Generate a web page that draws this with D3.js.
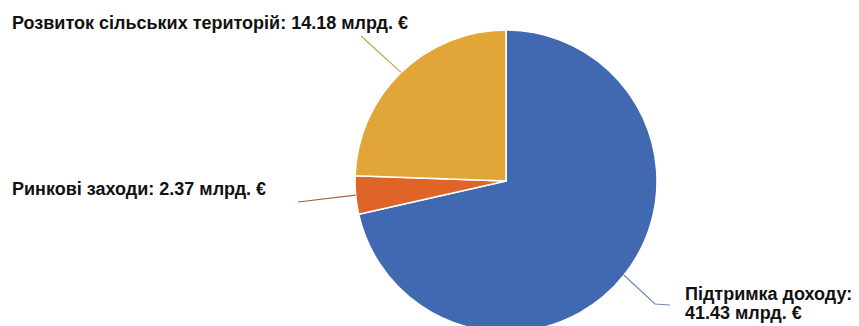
<!DOCTYPE html>
<html>
<head>
<meta charset="utf-8">
<script src="https://cdn.jsdelivr.net/npm/d3@7"></script>
<style>
  html, body { margin: 0; padding: 0; background: #fff; }
  svg { display: block; }
  text { font-family: "Liberation Sans", Arial, sans-serif; font-weight: bold; fill: #111; }
</style>
</head>
<body>
<svg id="chart" width="859" height="326"></svg>
<script>
// CAP budget split, billion euro
const categories = ["Підтримка доходу", "Ринкові заходи", "Розвиток сільських територій"];
const values = [41.43, 2.37, 14.18];
const unit = "млрд. €";
const colors = ["#4169B1", "#DE6428", "#E2A537"];
const leaderColors = ["#7089AE", "#A8603A", "#BFA552"];

const svg = d3.select("#chart");
const cx = 506, cy = 181, R = 151;

const pie = d3.pie().sort(null).startAngle(0).endAngle(2 * Math.PI);
const arcs = pie(values);
const arc = d3.arc().innerRadius(0).outerRadius(R);

const g = svg.append("g").attr("transform", `translate(${cx},${cy})`);

g.selectAll("path.slice")
  .data(arcs)
  .join("path")
  .attr("class", "slice")
  .attr("d", arc)
  .attr("fill", (d, i) => colors[i])
  .attr("stroke", "#fff")
  .attr("stroke-width", 1.5)
  .attr("stroke-linejoin", "round");

// point on the rim at the middle of a slice, in page coordinates
function rimPoint(d) {
  const a = (d.startAngle + d.endAngle) / 2;
  return [cx + R * Math.sin(a), cy - R * Math.cos(a)];
}

const fmt = v => `${v.toFixed(2)} ${unit}`;

// label layouts: text lines, anchor position and leader elbow points
const labels = [
  { lines: [`${categories[0]}:`, fmt(values[0])], x: 685, y: 300, lh: 19,
    path: p => [p, [655, 304], [670, 305]] },
  { lines: [`${categories[1]}: ${fmt(values[1])}`], x: 12, y: 195, lh: 0,
    path: p => [p, [298, 202]] },
  { lines: [`${categories[2]}: ${fmt(values[2])}`], x: 12, y: 29, lh: 0,
    path: p => [p, [361, 36]] }
];

const line = d3.line();
arcs.forEach((d, i) => {
  const L = labels[i];
  svg.append("path")
    .attr("d", line(L.path(rimPoint(d))))
    .attr("fill", "none")
    .attr("stroke", leaderColors[i])
    .attr("stroke-width", 1.2);
  const t = svg.append("text")
    .attr("x", L.x)
    .attr("y", L.y)
    .attr("font-size", 18);
  L.lines.forEach((s, k) => {
    t.append("tspan").attr("x", L.x).attr("dy", k === 0 ? 0 : L.lh).text(s);
  });
});
</script>
</body>
</html>
